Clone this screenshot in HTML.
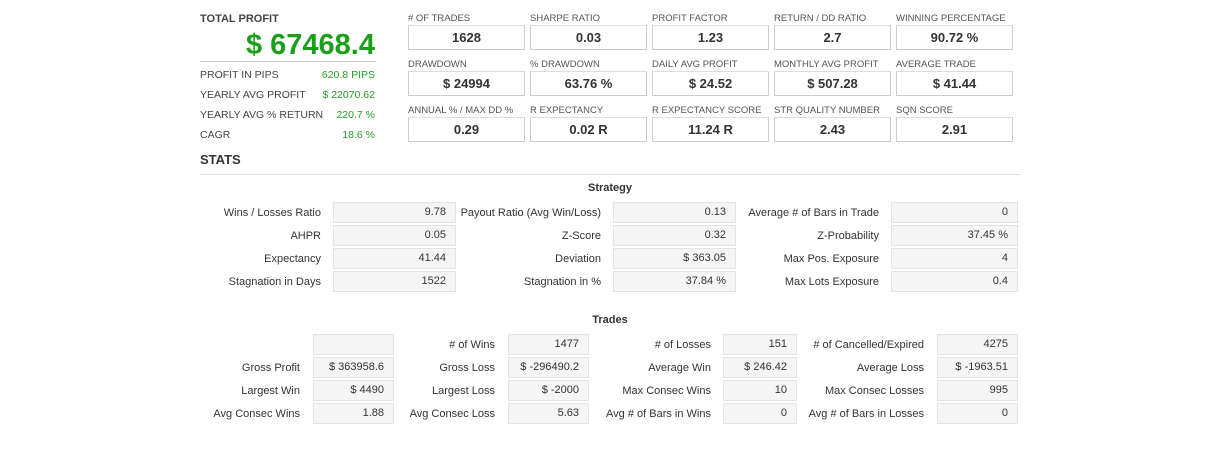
<!DOCTYPE html>
<html><head><meta charset="utf-8"><style>
body{margin:0;width:1218px;height:449px;background:#fff;font-family:"Liberation Sans",Arial,sans-serif;position:relative;overflow:hidden;color:#333}
.a{position:absolute;white-space:nowrap}
.hl{font-size:9.5px;color:#555}
.tb{position:absolute;border:1px solid #ccc;border-top-color:#ddd;background:#fff;font-size:13px;font-weight:bold;text-align:center;box-sizing:border-box;line-height:23px;color:#333}
.lbl{font-size:11px;color:#333;text-align:right}
.vb{position:absolute;background:#f5f5f5;border:1px solid #e3e3e3;box-sizing:border-box;font-size:11px;text-align:right;padding-right:9px;line-height:19px;color:#333}
.kl{font-size:10.5px;color:#444}
.kv{font-size:10.5px;color:#22a022;text-align:right}
</style></head><body>
<div class="a" style="left:200px;top:13px;font-size:11px;font-weight:bold;color:#444">TOTAL PROFIT</div>
<div class="a" style="right:843px;top:29px;font-size:29px;font-weight:bold;color:#18a018">$ 67468.4</div>
<div class="a" style="left:200px;top:61px;width:176px;height:1px;background:#ccc"></div>
<div class="a" style="left:200px;top:152px;font-size:13px;font-weight:bold;color:#333">STATS</div>
<div class="a" style="left:200px;top:174px;width:820px;height:1px;background:#ddd"></div>
<div class="a" style="left:560px;width:100px;text-align:center;top:182px;font-size:11px;font-weight:bold">Strategy</div>
<div class="a" style="left:560px;width:100px;text-align:center;top:314px;font-size:11px;font-weight:bold">Trades</div>
<script>
const kpLabels=["PROFIT IN PIPS","YEARLY AVG PROFIT","YEARLY AVG % RETURN","CAGR"];
const kpValues=["620.8 PIPS","$ 22070.62","220.7 %","18.6 %"];
const topLabels=[["# OF TRADES","SHARPE RATIO","PROFIT FACTOR","RETURN / DD RATIO","WINNING PERCENTAGE"],["DRAWDOWN","% DRAWDOWN","DAILY AVG PROFIT","MONTHLY AVG PROFIT","AVERAGE TRADE"],["ANNUAL % / MAX DD %","R EXPECTANCY","R EXPECTANCY SCORE","STR QUALITY NUMBER","SQN SCORE"]];
const topValues=[["1628","0.03","1.23","2.7","90.72 %"],["$ 24994","63.76 %","$ 24.52","$ 507.28","$ 41.44"],["0.29","0.02 R","11.24 R","2.43","2.91"]];
const stratLabels=[["Wins / Losses Ratio","Payout Ratio (Avg Win/Loss)","Average # of Bars in Trade"],["AHPR","Z-Score","Z-Probability"],["Expectancy","Deviation","Max Pos. Exposure"],["Stagnation in Days","Stagnation in %","Max Lots Exposure"]];
const stratValues=[["9.78","0.13","0"],["0.05","0.32","37.45 %"],["41.44","$ 363.05","4"],["1522","37.84 %","0.4"]];
const trLabels=[["","# of Wins","# of Losses","# of Cancelled/Expired"],["Gross Profit","Gross Loss","Average Win","Average Loss"],["Largest Win","Largest Loss","Max Consec Wins","Max Consec Losses"],["Avg Consec Wins","Avg Consec Loss","Avg # of Bars in Wins","Avg # of Bars in Losses"]];
const trValues=[["","1477","151","4275"],["$ 363958.6","$ -296490.2","$ 246.42","$ -1963.51"],["$ 4490","$ -2000","10","995"],["1.88","5.63","0","0"]];
function mk(cls,txt,css){const d=document.createElement('div');d.className=cls;d.textContent=txt;d.style.cssText=css;document.body.appendChild(d);return d;}
kpLabels.forEach((l,i)=>{
 const y=69+i*20;
 const a=mk('a kl',l,`left:200px;top:${y}px`);
 
 
 const b=mk('a kv',kpValues[i],`right:843px;top:${y}px`);
 
 
});
topLabels.forEach((row,r)=>row.forEach((l,c)=>{
 const x=408+c*122,y=13+r*46;
 const a=mk('a hl',l,`left:${x}px;top:${y}px`);
 
 
 const b=mk('tb',topValues[r][c],`left:${x}px;top:${y+12}px;width:117px;height:25px`);
 
 
}));
const sLblR=[321,601,879],sBox=[[333,123],[613,123],[891,127]];
stratLabels.forEach((row,r)=>row.forEach((l,c)=>{
 const y=202+r*23;
 const a=mk('a lbl',l,`right:${1218-sLblR[c]}px;top:${y+5}px`);
 
 
 const b=mk('vb',stratValues[r][c],`left:${sBox[c][0]}px;top:${y}px;width:${sBox[c][1]}px;height:21px`);
 
 
}));
const tLblR=[300,495,711,924],tBox=[[313,81],[508,81],[723,74],[937,81]];
trLabels.forEach((row,r)=>row.forEach((l,c)=>{
 const y=334+r*23;
 const a=mk('a lbl',l,`right:${1218-tLblR[c]}px;top:${y+5}px`);
 
 
 const b=mk('vb',trValues[r][c],`left:${tBox[c][0]}px;top:${y}px;width:${tBox[c][1]}px;height:21px`);
 
 
}));
</script>
</body></html>
